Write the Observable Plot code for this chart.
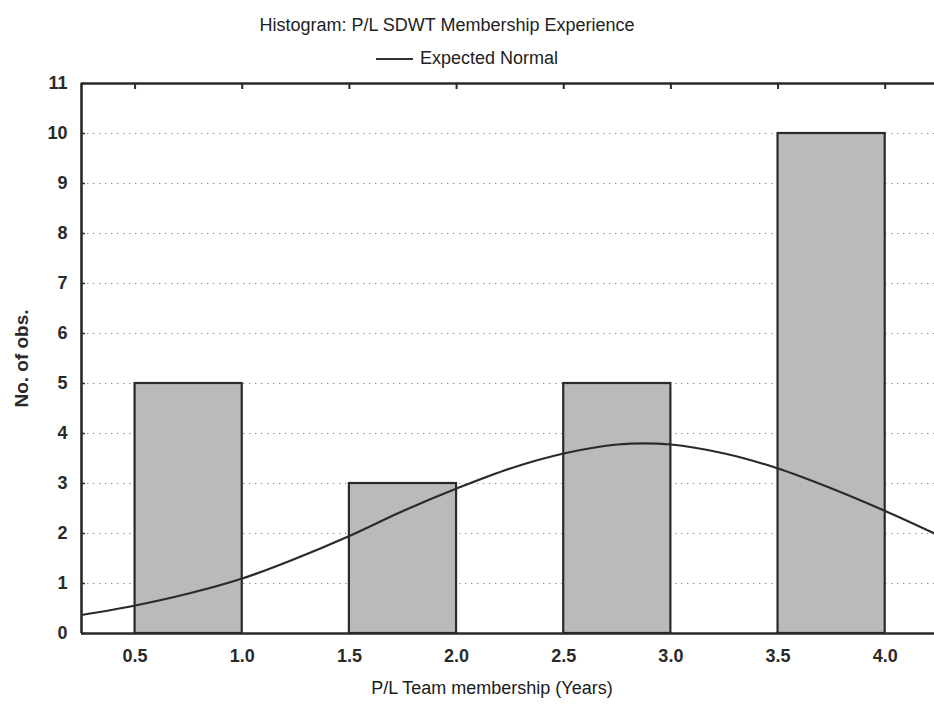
<!DOCTYPE html>
<html>
<head>
<meta charset="utf-8">
<script src="https://cdn.jsdelivr.net/npm/d3@7"></script>
<script src="https://cdn.jsdelivr.net/npm/@observablehq/plot@0.6"></script>
<style>
  html, body { margin: 0; padding: 0; background: #fff; overflow: hidden; }
  body { font-family: "Liberation Sans", Arial, sans-serif; color: #222; }
  #header { position: relative; width: 934px; height: 68px; }
  #title { position: absolute; left: 0; width: 894px; top: 16px; text-align: center; font-size: 18px; line-height: 18px; }
  #legend { position: absolute; left: 376px; top: 49px; font-size: 18px; line-height: 18px; white-space: nowrap; z-index: 2; }
  #legend svg { vertical-align: baseline; margin-right: 6px; }
  #chart svg text { font-size: 18px; fill: #1a1a1a; }
  #chart svg g[aria-label="x-axis tick label"] text,
  #chart svg g[aria-label="y-axis tick label"] text { font-weight: bold; font-size: 18px; fill: #2a2a2a; }
  #chart svg g.ylab text { font-weight: bold; font-size: 19px; fill: #2a2a2a; }
</style>
</head>
<body>
<div id="header">
  <div id="title">Histogram: P/L SDWT Membership Experience</div>
  <div id="legend"><svg width="38" height="12"><line x1="0" x2="37" y1="7" y2="7" stroke="#333" stroke-width="2"/></svg>Expected Normal</div>
</div>
<div id="chart"></div>
<script>
// Histogram bins (years) and counts
const binStart = [0.5, 1.5, 2.5, 3.5];
const binEnd   = [1.0, 2.0, 3.0, 4.0];
const counts   = [5, 3, 5, 10];

// Expected normal curve
const curveX = [0.25, 0.5, 0.75, 1.0, 1.25, 1.5, 1.75, 2.0, 2.25, 2.5, 2.75, 3.0, 3.25, 3.5, 3.75, 4.0, 4.23];
const curveY = [0.37, 0.56, 0.80, 1.10, 1.50, 1.95, 2.45, 2.90, 3.30, 3.60, 3.78, 3.78, 3.60, 3.30, 2.90, 2.45, 2.00];

// Ticks
const xTicks = [0.5, 1.0, 1.5, 2.0, 2.5, 3.0, 3.5, 4.0];
const yTicks = [0, 1, 2, 3, 4, 5, 6, 7, 8, 9, 10, 11];
const gridTicks = [1, 2, 3, 4, 5, 6, 7, 8, 9, 10];

const xDomain = [0.25, 4.23];
const yDomain = [0, 11];

const bars = binStart.map((s, i) => ({x1: s, x2: binEnd[i], y: counts[i]}));
const curve = curveX.map((x, i) => ({x, y: curveY[i]}));

const ink = "#2a2a2a";

const chart = Plot.plot({
  width: 934,
  height: 639,
  marginLeft: 81,
  marginRight: 0,
  marginTop: 15,
  marginBottom: 74,
  style: {fontFamily: "'Liberation Sans', Arial, sans-serif", fontSize: "18px", color: "#1e1e1e", background: "transparent"},
  x: {domain: xDomain, ticks: xTicks},
  y: {domain: yDomain, ticks: yTicks},
  marks: [
    Plot.gridY(gridTicks, {stroke: "#888", strokeOpacity: 0.9, strokeWidth: 1, strokeDasharray: "1.5,4.5"}),
    Plot.rectY(bars, {x1: "x1", x2: "x2", y: "y", fill: "#bababa", stroke: ink, strokeWidth: 2.2}),
    Plot.line(curve, {x: "x", y: "y", curve: "catmull-rom", stroke: ink, strokeWidth: 2.2, clip: true}),
    Plot.ruleX([xDomain[0]], {stroke: ink, strokeWidth: 2.6}),
    Plot.ruleY([yDomain[0]], {stroke: ink, strokeWidth: 2.6}),
    Plot.ruleY([yDomain[1]], {stroke: ink, strokeWidth: 2.6}),
    Plot.axisX(xTicks, {anchor: "bottom", tickSize: 0, tickPadding: 16, tickFormat: d3.format(".1f"), label: null}),
    Plot.axisX(xTicks, {anchor: "top", tickSize: -5, tickFormat: () => "", label: null, stroke: ink, strokeWidth: 2}),
    Plot.axisY(yTicks, {anchor: "left", tickSize: -4, tickPadding: 18, tickFormat: d3.format("d"), label: null, stroke: ink, strokeWidth: 1.5}),
    Plot.text(["P/L Team membership (Years)"], {frameAnchor: "bottom", dy: 60, dx: -16, textAnchor: "middle"}),
    Plot.text(["No. of obs."], {frameAnchor: "left", dx: -60, rotate: -90, textAnchor: "middle", className: "ylab"})
  ]
});
document.getElementById("chart").appendChild(chart);
</script>
</body>
</html>
